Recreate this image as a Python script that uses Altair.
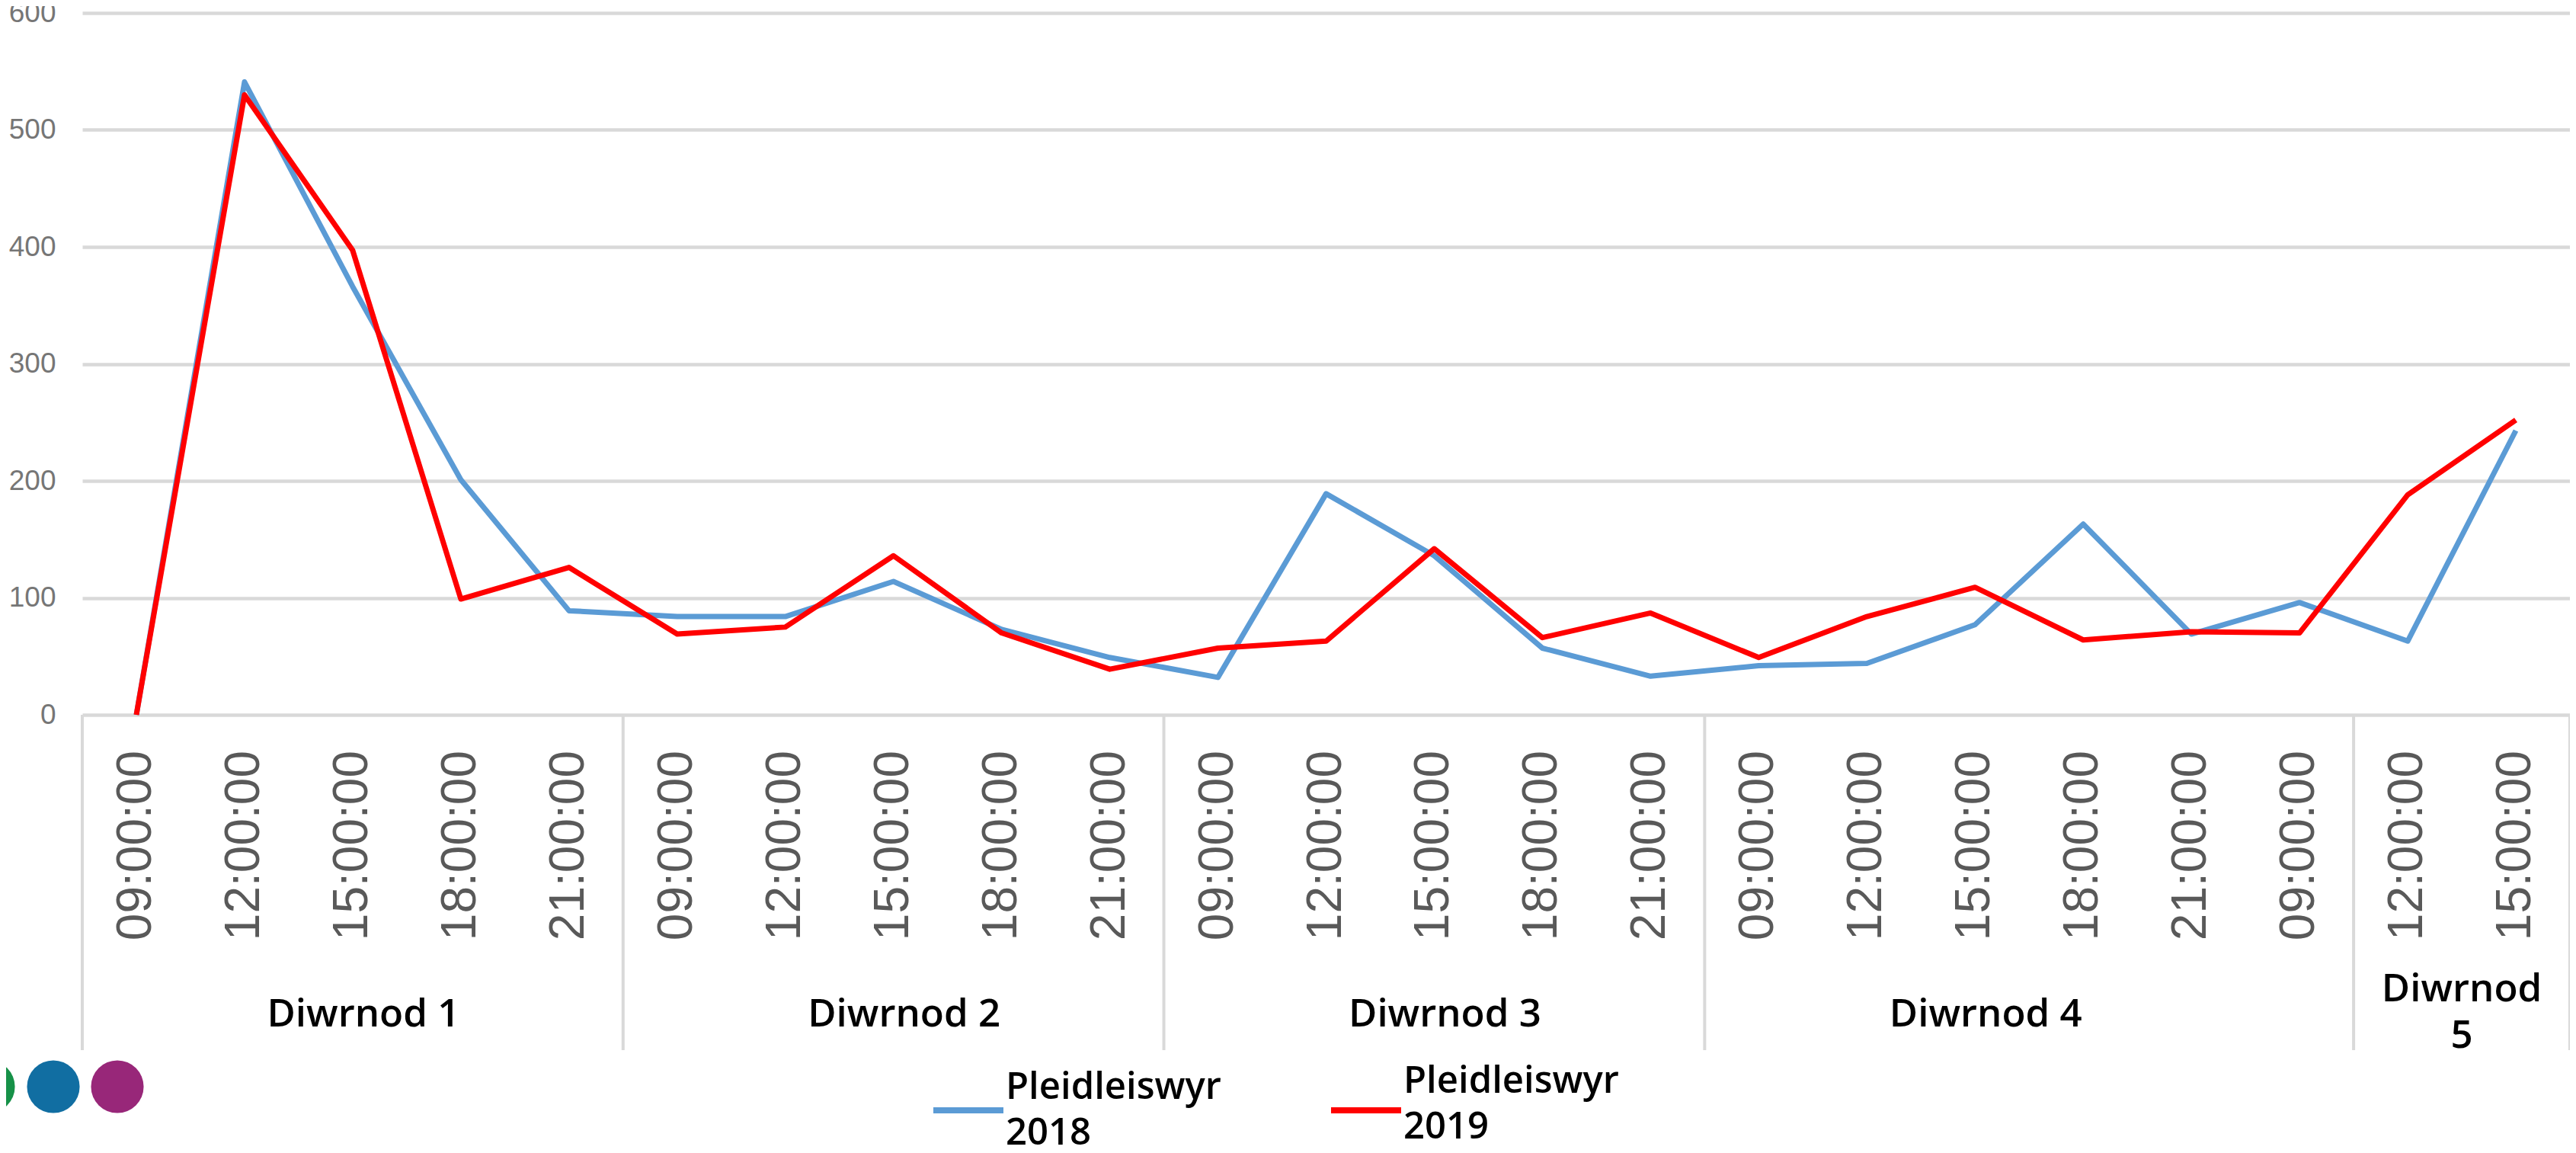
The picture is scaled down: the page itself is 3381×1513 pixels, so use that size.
import altair as alt
import pandas as pd

# ---- data ----
times = ["09:00:00", "12:00:00", "15:00:00", "18:00:00", "21:00:00",
         "09:00:00", "12:00:00", "15:00:00", "18:00:00", "21:00:00",
         "09:00:00", "12:00:00", "15:00:00", "18:00:00", "21:00:00",
         "09:00:00", "12:00:00", "15:00:00", "18:00:00", "21:00:00", "09:00:00",
         "12:00:00", "15:00:00"]
day_names = ["Diwrnod 1", "Diwrnod 2", "Diwrnod 3", "Diwrnod 4", "Diwrnod\n5"]
day_counts = [5, 5, 5, 6, 2]
day_label_at = [2, 7, 12, 17, 21.5]
voters_2018 = [0, 541, 366, 201, 89, 84, 84, 114, 73, 49, 32, 189, 136, 57, 33,
               42, 44, 77, 163, 69, 96, 63, 243]
voters_2019 = [0, 530, 397, 99, 126, 69, 75, 136, 70, 39, 57, 63, 142, 66, 87,
               49, 84, 109, 64, 71, 70, 188, 252]
series_names = ["Pleidleiswyr 2018", "Pleidleiswyr 2019"]
series_colors = ["#5b9bd5", "#ff0000"]
y_ticks = [0, 100, 200, 300, 400, 500, 600]
logo_colors = ["#169148", "#116ea2", "#982779"]

# ---- tables ----
rows = []
for name, vals in zip(series_names, [voters_2018, voters_2019]):
    for i, v in enumerate(vals):
        rows.append({"idx": i, "time": times[i], "value": v, "series": name})
df = pd.DataFrame(rows)
times_df = pd.DataFrame({"idx": list(range(len(times))), "time": times})

bounds = [-0.5]
for c in day_counts:
    bounds.append(bounds[-1] + c)
sep_df = pd.DataFrame({"b": bounds})
days_df = pd.DataFrame({"day": day_names, "at": day_label_at})

W, H = 3265, 921
xscale = alt.Scale(domain=[-0.5, len(times) - 0.5], nice=False, zero=False)
cscale = alt.Scale(domain=series_names, range=series_colors)

x_enc = alt.X("idx:Q", scale=xscale, axis=None)
y_enc = alt.Y(
    "value:Q", scale=alt.Scale(domain=[0, 600], nice=False),
    axis=alt.Axis(values=y_ticks, labelFont="Liberation Sans", labelFontSize=37,
                  labelColor="#767676", labelPadding=35, ticks=False,
                  domain=False, gridColor="#d9d9d9", gridWidth=4.5, title=None),
)

base = alt.Chart(df)
line_layers = []
for name in series_names:
    line_layers.append(
        base.transform_filter(alt.datum.series == name).mark_line(
            strokeWidth=7, strokeJoin="round").encode(
            x=x_enc, y=y_enc,
            color=alt.Color("series:N", scale=cscale, legend=None)))

# category axis: time labels (rotated) through the x scale
time_labels = alt.Chart(times_df).mark_text(
    font="Liberation Sans", fontSize=64, color="#595959", angle=270,
    align="right", baseline="middle").encode(
    x=alt.X("idx:Q", scale=xscale, axis=None), y=alt.value(H + 47),
    text="time:N")

seps = alt.Chart(sep_df).mark_rule(color="#d9d9d9", strokeWidth=4).encode(
    x=alt.X("b:Q", scale=xscale, axis=None),
    y=alt.value(H), y2=alt.value(H + 440))

day_text_main = alt.Chart(days_df.iloc[:4]).mark_text(
    font="Open Sans", fontSize=51, fontWeight=600, color="#000000",
    baseline="middle", lineBreak="\n", lineHeight=61, dx=14).encode(
    x=alt.X("at:Q", scale=xscale, axis=None), y=alt.value(1315), text="day:N")
day_text_last = alt.Chart(days_df.iloc[4:]).mark_text(
    font="Open Sans", fontSize=51, fontWeight=600, color="#000000",
    baseline="middle", lineBreak="\n", lineHeight=61).encode(
    x=alt.X("at:Q", scale=xscale, axis=None), y=alt.value(1282), text="day:N")

# ---- legend (drawn by hand to get two-line labels) ----
legend_layout = [  # (symbol x0, symbol x1, symbol y, text x, first-line y)
    (1117, 1209, 1440, 1212, 1410),
    (1639, 1731, 1440, 1734, 1402),
]
legend_layers = []
for name, (sx0, sx1, sy, tx, ty) in zip(series_names, legend_layout):
    ldf = pd.DataFrame({"series": [name]})
    legend_layers.append(
        alt.Chart(ldf).mark_rule(strokeWidth=8).encode(
            x=alt.value(sx0), x2=alt.value(sx1), y=alt.value(sy),
            color=alt.Color("series:N", scale=cscale, legend=None)))
    legend_layers.append(
        alt.Chart(ldf).mark_text(
            font="Open Sans", fontSize=49, fontWeight=600, color="#000000",
            align="left", baseline="middle", lineBreak=" ", lineHeight=60).encode(
            x=alt.value(tx), y=alt.value(ty), text="series:N"))

logo_x = [-123, -38, 46]
logos = []
for cx, col in zip(logo_x, logo_colors):
    logos.append(
        alt.Chart(pd.DataFrame({"c": [col]})).mark_circle(
            color=col, opacity=1, size=4778).encode(
            x=alt.value(cx), y=alt.value(1409)))

chart = alt.layer(*line_layers, seps, time_labels, day_text_main, day_text_last,
                  *legend_layers, *logos).properties(
    width=W, height=H,
    autosize=alt.AutoSizeParams(type="none"),
    padding={"left": 100, "top": 9, "right": 0, "bottom": 567},
).configure_view(stroke=None)

chart.save("out.html", embed_options={"renderer": "svg", "actions": False})
